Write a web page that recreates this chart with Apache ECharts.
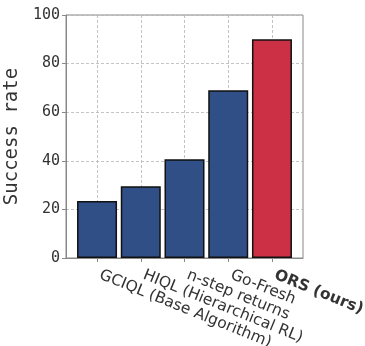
<!DOCTYPE html>
<html><head><meta charset="utf-8">
<script src="https://cdn.jsdelivr.net/npm/echarts@6/dist/echarts.min.js"></script>
<style>html,body{margin:0;padding:0;background:#fff}#c{width:365px;height:346px}</style>
</head><body><div id="c"></div>
<script>
const categories = ["GCIQL (Base Algorithm)", "HIQL (Hierarchical RL)", "n-step returns", "Go-Fresh", "ORS (ours)"];
const successRate = [23.5, 29.5, 40.6, 69, 90];
const barColors = ["#2f4f86", "#2f4f86", "#2f4f86", "#2f4f86", "#cb3044"];
const yTicks = [0, 20, 40, 60, 80, 100];

const positions = categories.map((c, i) => i);
const chart = echarts.init(document.getElementById('c'), null, {renderer: 'canvas'});
chart.setOption({
  animation: false,
  grid: {left: 66, right: 62, top: 15, bottom: 88, show: true, borderColor: '#888', borderWidth: 1,
         containLabel: false, outerBoundsMode: 'none'},
  xAxis: {
    type: 'value', min: -0.71, max: 4.71,
    axisLine: {show: true, onZero: false, lineStyle: {color: '#888', width: 1}},
    axisTick: {show: true, length: 4, lineStyle: {color: '#888'}, customValues: positions},
    splitLine: {show: true, lineStyle: {color: '#b5b5b5', type: [3, 2], width: 0.8}},
    axisLabel: {
      customValues: positions, rotate: -22, margin: 24, align: 'left', verticalAlign: 'bottom',
      fontFamily: 'DejaVu Sans', fontSize: 15.5, color: '#333',
      formatter: v => { const i = Math.round(v); return i === 4 ? '{b|' + categories[i] + '}' : categories[i]; },
      rich: {b: {fontWeight: 'bold', fontFamily: 'DejaVu Sans', fontSize: 15.5, color: '#333'}}
    }
  },
  yAxis: {
    type: 'value', min: 0, max: 100, interval: 20,
    name: 'Success rate', nameLocation: 'middle', nameGap: 34,
    nameTextStyle: {fontFamily: 'DejaVu Sans Mono', fontSize: 19, color: '#333'},
    axisLine: {show: true, onZero: false, lineStyle: {color: '#888'}},
    axisTick: {show: true, length: 4, lineStyle: {color: '#888'}},
    splitLine: {show: true, lineStyle: {color: '#b5b5b5', type: [3, 2], width: 0.8}},
    axisLabel: {fontFamily: 'DejaVu Sans Mono', fontSize: 15, color: '#333', margin: 6,
      customValues: yTicks}
  },
  series: [{
    type: 'bar', barWidth: 40,
    data: successRate.map((v, i) => ({value: [positions[i], v], itemStyle: {color: barColors[i]}})),
    itemStyle: {borderColor: '#111', borderWidth: 1.5}
  }]
});
</script></body></html>
